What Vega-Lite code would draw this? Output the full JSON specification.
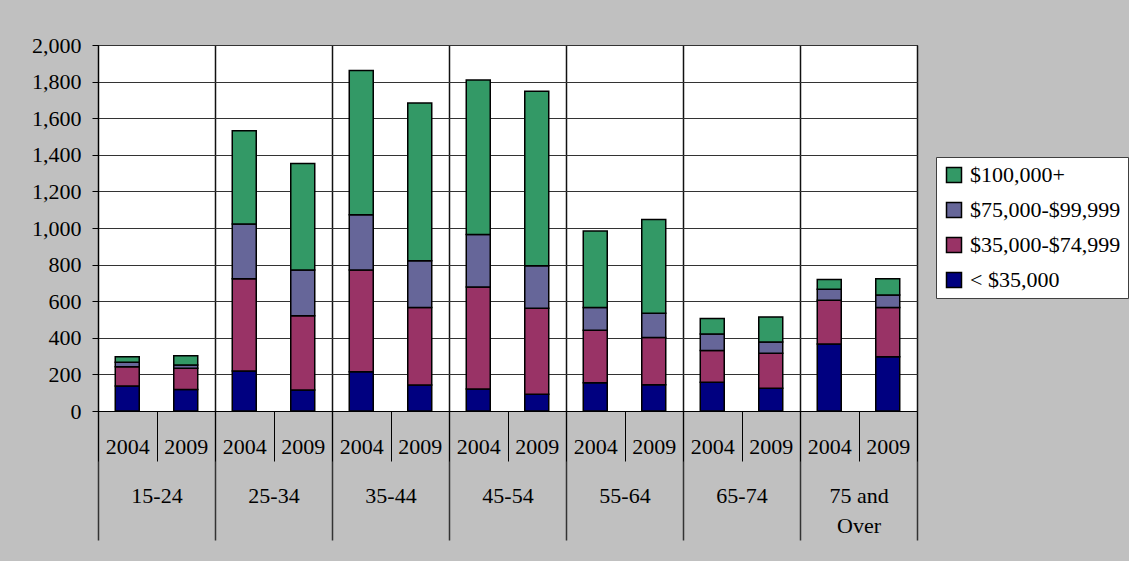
{
  "$schema": "https://vega.github.io/schema/vega-lite/v6.json",
  "width": 819,
  "height": 366,
  "autosize": {"type": "none"},
  "padding": {"left": 98, "top": 45, "right": 212, "bottom": 150},
  "background": "#c0c0c0",
  "config": {
    "view": {"fill": "white", "stroke": "black", "strokeWidth": 1},
    "font": "'Liberation Serif', 'DejaVu Serif', serif",
    "axis": {"labelFont": "'Liberation Serif', 'DejaVu Serif', serif", "labelColor": "black", "domainColor": "black", "tickColor": "black", "domainWidth": 1}
  },
  "data": {
    "values": [
      {"g": "15-24", "c": "15-24 2004", "t": 1, "b": "< $35,000", "v": 137},
      {"g": "15-24", "c": "15-24 2004", "t": 2, "b": "$35,000-$74,999", "v": 105},
      {"g": "15-24", "c": "15-24 2004", "t": 3, "b": "$75,000-$99,999", "v": 24},
      {"g": "15-24", "c": "15-24 2004", "t": 4, "b": "$100,000+", "v": 31},
      {"g": "15-24", "c": "15-24 2009", "t": 1, "b": "< $35,000", "v": 118},
      {"g": "15-24", "c": "15-24 2009", "t": 2, "b": "$35,000-$74,999", "v": 115},
      {"g": "15-24", "c": "15-24 2009", "t": 3, "b": "$75,000-$99,999", "v": 18},
      {"g": "15-24", "c": "15-24 2009", "t": 4, "b": "$100,000+", "v": 51},
      {"g": "25-34", "c": "25-34 2004", "t": 1, "b": "< $35,000", "v": 219},
      {"g": "25-34", "c": "25-34 2004", "t": 2, "b": "$35,000-$74,999", "v": 504},
      {"g": "25-34", "c": "25-34 2004", "t": 3, "b": "$75,000-$99,999", "v": 299},
      {"g": "25-34", "c": "25-34 2004", "t": 4, "b": "$100,000+", "v": 510},
      {"g": "25-34", "c": "25-34 2009", "t": 1, "b": "< $35,000", "v": 115},
      {"g": "25-34", "c": "25-34 2009", "t": 2, "b": "$35,000-$74,999", "v": 406},
      {"g": "25-34", "c": "25-34 2009", "t": 3, "b": "$75,000-$99,999", "v": 249},
      {"g": "25-34", "c": "25-34 2009", "t": 4, "b": "$100,000+", "v": 583},
      {"g": "35-44", "c": "35-44 2004", "t": 1, "b": "< $35,000", "v": 215},
      {"g": "35-44", "c": "35-44 2004", "t": 2, "b": "$35,000-$74,999", "v": 555},
      {"g": "35-44", "c": "35-44 2004", "t": 3, "b": "$75,000-$99,999", "v": 303},
      {"g": "35-44", "c": "35-44 2004", "t": 4, "b": "$100,000+", "v": 787},
      {"g": "35-44", "c": "35-44 2009", "t": 1, "b": "< $35,000", "v": 142},
      {"g": "35-44", "c": "35-44 2009", "t": 2, "b": "$35,000-$74,999", "v": 423},
      {"g": "35-44", "c": "35-44 2009", "t": 3, "b": "$75,000-$99,999", "v": 256},
      {"g": "35-44", "c": "35-44 2009", "t": 4, "b": "$100,000+", "v": 862},
      {"g": "45-54", "c": "45-54 2004", "t": 1, "b": "< $35,000", "v": 120},
      {"g": "45-54", "c": "45-54 2004", "t": 2, "b": "$35,000-$74,999", "v": 558},
      {"g": "45-54", "c": "45-54 2004", "t": 3, "b": "$75,000-$99,999", "v": 287},
      {"g": "45-54", "c": "45-54 2004", "t": 4, "b": "$100,000+", "v": 844},
      {"g": "45-54", "c": "45-54 2009", "t": 1, "b": "< $35,000", "v": 91},
      {"g": "45-54", "c": "45-54 2009", "t": 2, "b": "$35,000-$74,999", "v": 470},
      {"g": "45-54", "c": "45-54 2009", "t": 3, "b": "$75,000-$99,999", "v": 233},
      {"g": "45-54", "c": "45-54 2009", "t": 4, "b": "$100,000+", "v": 953},
      {"g": "55-64", "c": "55-64 2004", "t": 1, "b": "< $35,000", "v": 155},
      {"g": "55-64", "c": "55-64 2004", "t": 2, "b": "$35,000-$74,999", "v": 286},
      {"g": "55-64", "c": "55-64 2004", "t": 3, "b": "$75,000-$99,999", "v": 124},
      {"g": "55-64", "c": "55-64 2004", "t": 4, "b": "$100,000+", "v": 419},
      {"g": "55-64", "c": "55-64 2009", "t": 1, "b": "< $35,000", "v": 144},
      {"g": "55-64", "c": "55-64 2009", "t": 2, "b": "$35,000-$74,999", "v": 257},
      {"g": "55-64", "c": "55-64 2009", "t": 3, "b": "$75,000-$99,999", "v": 133},
      {"g": "55-64", "c": "55-64 2009", "t": 4, "b": "$100,000+", "v": 513},
      {"g": "65-74", "c": "65-74 2004", "t": 1, "b": "< $35,000", "v": 157},
      {"g": "65-74", "c": "65-74 2004", "t": 2, "b": "$35,000-$74,999", "v": 173},
      {"g": "65-74", "c": "65-74 2004", "t": 3, "b": "$75,000-$99,999", "v": 91},
      {"g": "65-74", "c": "65-74 2004", "t": 4, "b": "$100,000+", "v": 85},
      {"g": "65-74", "c": "65-74 2009", "t": 1, "b": "< $35,000", "v": 124},
      {"g": "65-74", "c": "65-74 2009", "t": 2, "b": "$35,000-$74,999", "v": 191},
      {"g": "65-74", "c": "65-74 2009", "t": 3, "b": "$75,000-$99,999", "v": 62},
      {"g": "65-74", "c": "65-74 2009", "t": 4, "b": "$100,000+", "v": 137},
      {"g": "75 and Over", "c": "75 and Over 2004", "t": 1, "b": "< $35,000", "v": 366},
      {"g": "75 and Over", "c": "75 and Over 2004", "t": 2, "b": "$35,000-$74,999", "v": 239},
      {"g": "75 and Over", "c": "75 and Over 2004", "t": 3, "b": "$75,000-$99,999", "v": 60},
      {"g": "75 and Over", "c": "75 and Over 2004", "t": 4, "b": "$100,000+", "v": 53},
      {"g": "75 and Over", "c": "75 and Over 2009", "t": 1, "b": "< $35,000", "v": 297},
      {"g": "75 and Over", "c": "75 and Over 2009", "t": 2, "b": "$35,000-$74,999", "v": 268},
      {"g": "75 and Over", "c": "75 and Over 2009", "t": 3, "b": "$75,000-$99,999", "v": 69},
      {"g": "75 and Over", "c": "75 and Over 2009", "t": 4, "b": "$100,000+", "v": 89}
    ]
  },
  "layer": [
    {
      "mark": {"type": "bar", "opacity": 0},
      "encoding": {
        "x": {
          "field": "g", "type": "nominal", "sort": null,
          "scale": {"paddingInner": 0, "paddingOuter": 0},
          "axis": {
            "orient": "bottom", "title": null, "labelAngle": 0,
            "labelExpr": "isString(datum.value) ? (datum.value == '75 and Over' ? ['75 and', 'Over'] : datum.value) : ''",
            "tickBand": "extent", "tickSize": 129, "tickWidth": 1.5, "tickColor": "#333333",
            "labelPadding": -55, "labelFontSize": 22, "labelLineHeight": 30,
            "grid": true, "gridColor": "#111111", "gridWidth": 1.5, "gridOpacity": 1, "domain": false
          }
        }
      }
    },
    {
      "mark": {"type": "bar", "stroke": "black", "strokeWidth": 1.5, "width": {"band": 0.41}},
      "encoding": {
        "x": {
          "field": "c", "type": "nominal", "sort": null,
          "scale": {"paddingInner": 0, "paddingOuter": 0},
          "axis": {
            "orient": "bottom", "title": null, "labelAngle": 0,
            "labelExpr": "isString(datum.value) ? slice(datum.value, -4) : ''",
            "tickBand": "extent", "tickSize": 50, "tickWidth": 1,
            "labelPadding": -25, "labelFontSize": 22,
            "grid": false, "domainColor": "black"
          }
        },
        "y": {
          "field": "v", "type": "quantitative",
          "scale": {"domain": [0, 2000], "nice": false},
          "axis": {
            "title": null, "values": [0, 200, 400, 600, 800, 1000, 1200, 1400, 1600, 1800, 2000],
            "format": ",.0f", "tickSize": 6, "labelPadding": 11, "labelFontSize": 22,
            "grid": true, "gridColor": "#333333", "gridOpacity": 1, "gridWidth": 1
          }
        },
        "order": {"field": "t", "type": "quantitative", "sort": "ascending"},
        "color": {
          "field": "b", "type": "nominal",
          "scale": {
            "domain": ["$100,000+", "$75,000-$99,999", "$35,000-$74,999", "< $35,000"],
            "range": ["#339966", "#666699", "#993366", "#000080"]
          },
          "legend": {
            "orient": "none", "legendX": 838, "legendY": 112, "title": null,
            "fillColor": "white", "strokeColor": "#404040", "padding": 7,
            "symbolType": "square", "symbolSize": 225, "symbolStrokeColor": "black",
            "symbolStrokeWidth": 1.5, "symbolOpacity": 1,
            "labelFont": "'Liberation Serif', 'DejaVu Serif', serif", "labelFontSize": 22, "labelColor": "black",
            "rowPadding": 13, "labelOffset": 5, "labelLimit": 300
          }
        }
      }
    }
  ],
  "resolve": {"scale": {"x": "independent"}, "axis": {"x": "independent"}}
}
